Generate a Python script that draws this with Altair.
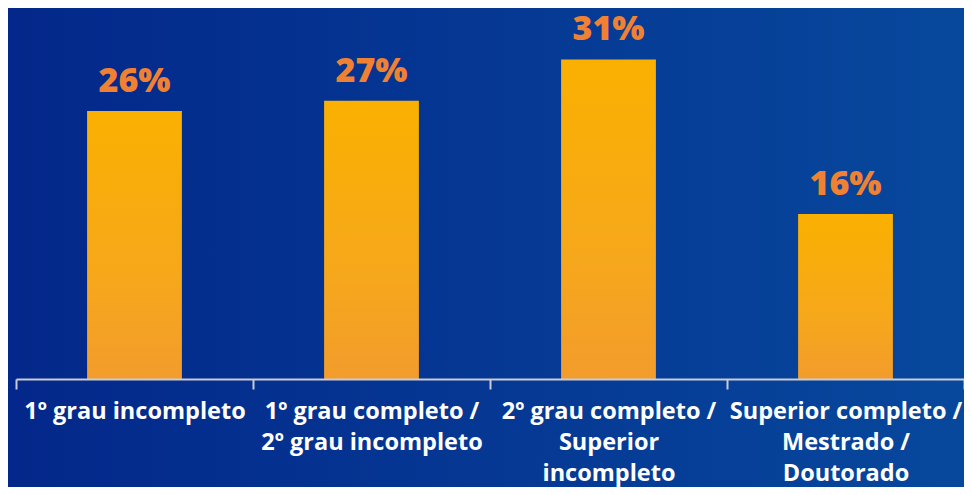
import altair as alt
import pandas as pd

categories = ["1º grau incompleto",
              "1º grau completo /|2º grau incompleto",
              "2º grau completo /|Superior|incompleto",
              "Superior completo /|Mestrado /|Doutorado"]
values = [26, 27, 31, 16]
value_labels = ["26%", "27%", "31%", "16%"]

df = pd.DataFrame({"cat": categories, "val": values, "lab": value_labels})

W, H = 948, 369

bg = alt.Chart(pd.DataFrame({"a": [0]})).mark_rect(
    color=alt.Gradient(
        gradient="linear",
        stops=[alt.GradientStop(color="#03278a", offset=0),
               alt.GradientStop(color="#07499d", offset=1)],
        x1=0, x2=1, y1=0, y2=0,
    )
).encode(x=alt.value(-20), x2=alt.value(W + 40), y=alt.value(-20), y2=alt.value(H + 160))

xenc = alt.X("cat:N", sort=categories, title=None,
             scale=alt.Scale(paddingInner=0, paddingOuter=0),
             axis=alt.Axis(labelAngle=0, labelColor="white", labelFont="Open Sans",
                           labelFontWeight="bold", labelFontSize=23.5, labelLineHeight=31,
                           labelPadding=10, labelLimit=400, labelBaseline="top",
                           labelExpr="split(datum.label, '|')", zindex=2,
                           domainColor="#c9ccd6", domainWidth=2, tickColor="#c9ccd6",
                           tickWidth=2, tickSize=10, tickBand="extent"))
yenc = alt.Y("val:Q", scale=alt.Scale(domain=[0, 35.8], nice=False), axis=None)

bars = alt.Chart(df).mark_bar(
    width=alt.RelativeBandSize(0.4),
    color=alt.Gradient(
        gradient="linear",
        stops=[alt.GradientStop(color="#f9b000", offset=0),
               alt.GradientStop(color="#f6a81a", offset=0.6),
               alt.GradientStop(color="#f29c2c", offset=1)],
        x1=0, x2=0, y1=0, y2=1,
    )
).encode(x=xenc, y=yenc)

texts = alt.Chart(df).mark_text(
    color="#f08132", font="Open Sans", fontWeight=800, fontSize=34,
    baseline="alphabetic", dy=-19
).encode(x=alt.X("cat:N", sort=categories), y=yenc, text="lab:N")

chart = alt.layer(bg, bars, texts).properties(
    width=W, height=H,
    autosize=alt.AutoSizeParams(type="none"),
    padding={"left": 8, "top": 2, "right": 0, "bottom": 108},
).configure_view(stroke=None).configure(background="#05389a")

chart.save("out.html", embed_options={"renderer": "svg", "actions": False})
